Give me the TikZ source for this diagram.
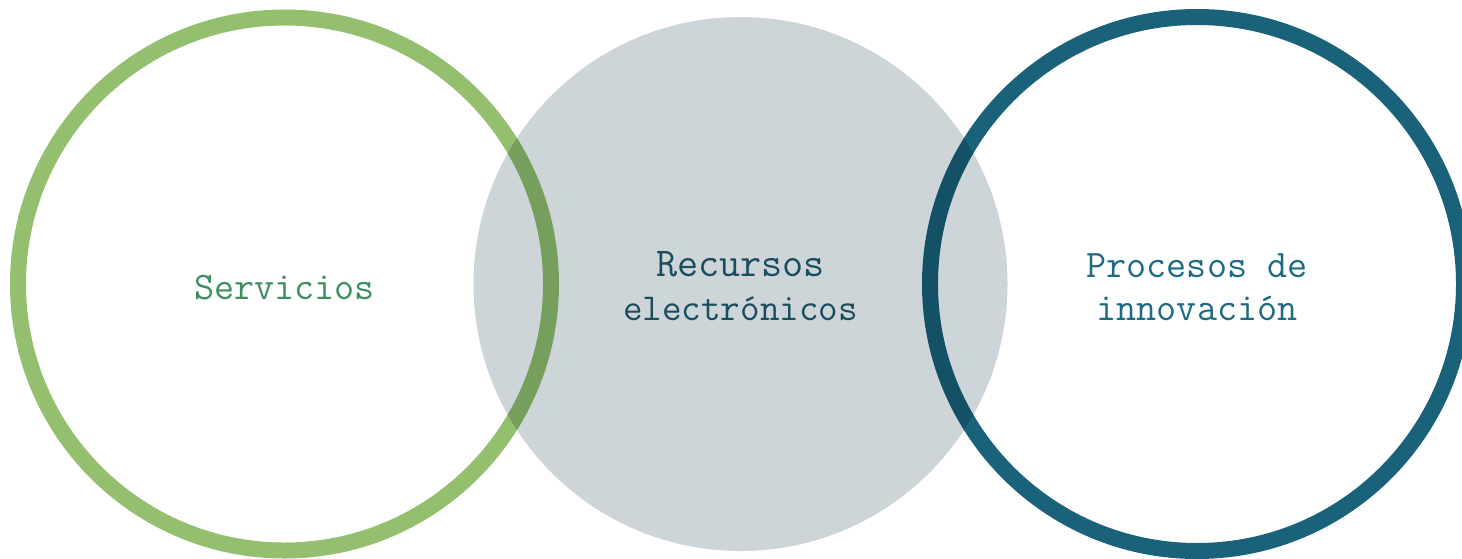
\documentclass[tikz,border=0pt]{standalone}
\usepackage{fontspec}
\definecolor{ringgreen}{HTML}{94BF6E}
\definecolor{ringblue}{HTML}{1A627A}
\definecolor{discgray}{HTML}{CDD5D9}
\definecolor{txtgreen}{HTML}{3E8E62}
\definecolor{txtdark}{HTML}{1C4D5E}
\definecolor{txtblue}{HTML}{1E6A82}
\begin{document}
\begin{tikzpicture}[x=1pt,y=-1pt,
  ring/.style={draw, line width=16pt, fill=none},
  lbl/.style={font=\ttfamily\fontsize{39}{44}\selectfont, anchor=base, inner sep=0pt}]
\useasboundingbox (0,0) rectangle (1462,558);
\draw[ring, ringgreen] (284.5,284) circle[radius=266.5];
\draw[ring, ringblue] (1197,284) circle[radius=267];
\begin{scope}[blend mode=multiply]
\fill[discgray] (740.5,284) circle[radius=267];
\end{scope}
\node[lbl, text=txtgreen] (serv) at (284.5,299) {Servicios};
\node[lbl, text=txtdark, font=\ttfamily\fontsize{41}{44}\selectfont] (rec1) at (740.5,276) {Recursos};
\node[lbl, text=txtdark, font=\ttfamily\fontsize{38}{44}\selectfont] (rec2) at (740.5,320) {electrónicos};
\node[lbl, text=txtblue] (pro1) at (1197,277) {Procesos de};
\node[lbl, text=txtblue] (pro2) at (1197,320) {innovación};
\end{tikzpicture}
\end{document}
